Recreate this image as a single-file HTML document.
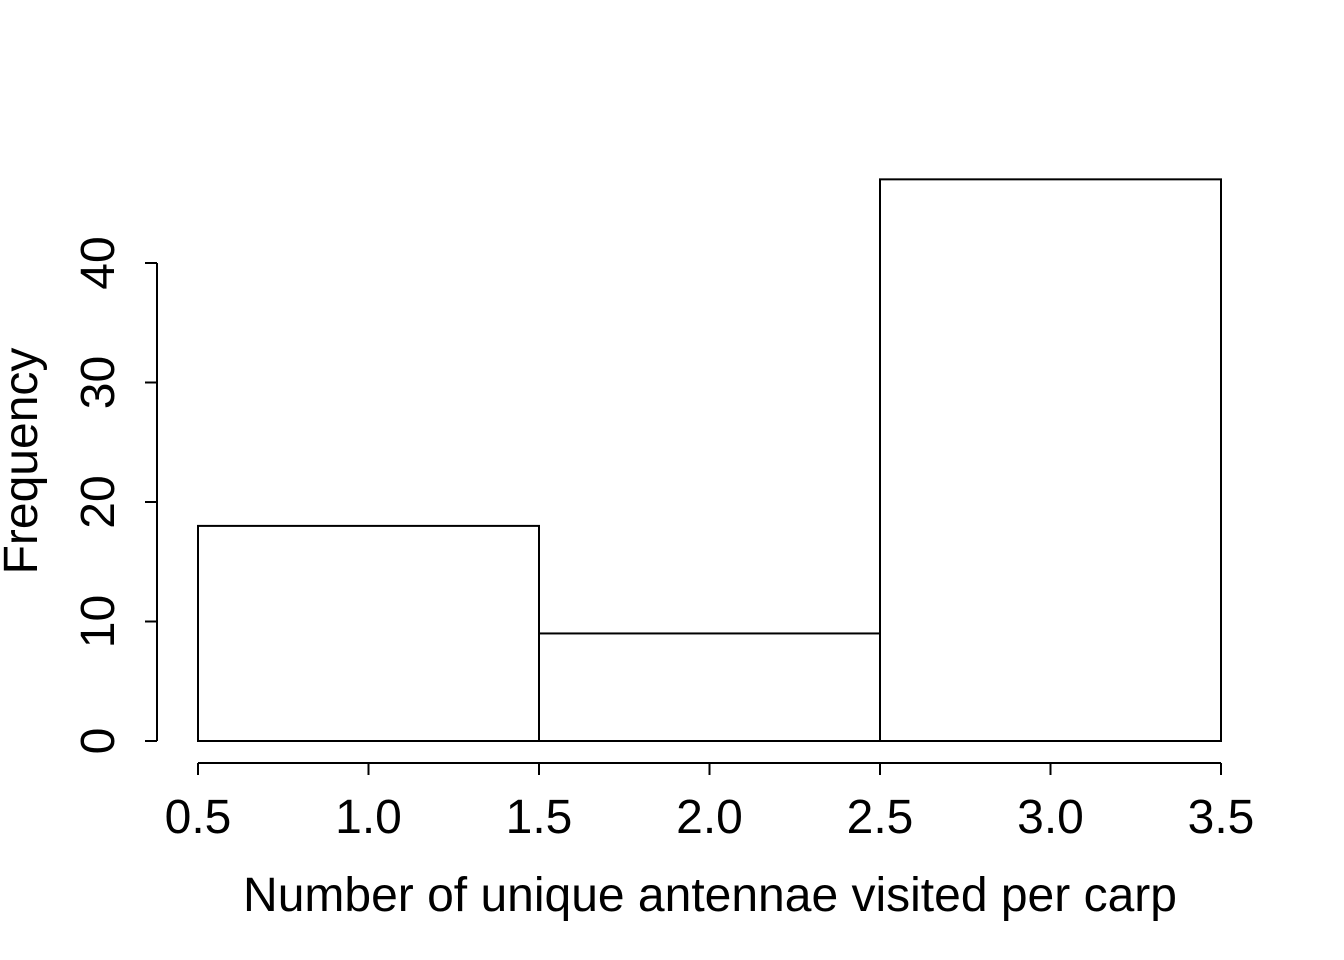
<!DOCTYPE html>
<html><head><meta charset="utf-8"><style>
html,body{margin:0;padding:0;background:#fff}
svg{display:block}
text{font-family:"Liberation Sans",Arial,sans-serif;fill:#000}
</style></head><body>
<svg id="chart" width="1344" height="960" xmlns="http://www.w3.org/2000/svg"></svg>
<script>
const binStarts = [0.5, 1.5, 2.5];
const binEnds = [1.5, 2.5, 3.5];
const counts = [18, 9, 47];
const xTicks = [0.5, 1.0, 1.5, 2.0, 2.5, 3.0, 3.5];
const xTickLabels = ["0.5","1.0","1.5","2.0","2.5","3.0","3.5"];
const yTicks = [0, 10, 20, 30, 40];
const yTickLabels = ["0","10","20","30","40"];

const svg = document.getElementById('chart');
const NS = 'http://www.w3.org/2000/svg';
const xScale = v => 198 + (v - 0.5) * (1221 - 198) / 3;
const yScale = v => 741 - v * (741 - 263) / 40;
function mk(tag, attrs, parent) {
  const e = document.createElementNS(NS, tag);
  for (const k in attrs) e.setAttribute(k, attrs[k]);
  (parent || svg).appendChild(e);
  return e;
}

const bars = mk('g', {});


counts.forEach((c, i) => {
  const x0 = xScale(binStarts[i]), x1 = xScale(binEnds[i]), y = yScale(c);
  const r = mk('rect', {x: x0, y: y, width: x1 - x0, height: yScale(0) - y, fill: '#fff', stroke: '#000', 'stroke-width': 2}, bars);
  
  
});

const xa = mk('g', {});


mk('line', {x1: xScale(xTicks[0]), x2: xScale(xTicks[xTicks.length - 1]), y1: 763, y2: 763, stroke: '#000', 'stroke-width': 2}, xa);
xTicks.forEach((t, i) => {
  mk('line', {x1: xScale(t), x2: xScale(t), y1: 763, y2: 775, stroke: '#000', 'stroke-width': 2}, xa);
  const tx = mk('text', {x: xScale(t), y: 833, 'font-size': 48, 'text-anchor': 'middle'}, xa);
  tx.textContent = xTickLabels[i];
  
  
});

const ya = mk('g', {});


mk('line', {x1: 157, x2: 157, y1: yScale(yTicks[0]), y2: yScale(yTicks[yTicks.length - 1]), stroke: '#000', 'stroke-width': 2}, ya);
yTicks.forEach((t, i) => {
  mk('line', {x1: 145, x2: 157, y1: yScale(t), y2: yScale(t), stroke: '#000', 'stroke-width': 2}, ya);
  const tx = mk('text', {x: 0, y: 0, 'font-size': 48, 'text-anchor': 'middle', transform: 'translate(114,' + yScale(t) + ') rotate(-90)'}, ya);
  tx.textContent = yTickLabels[i];
  
  
});

const xt = mk('text', {x: 710, y: 911, 'font-size': 48, 'text-anchor': 'middle'});
xt.textContent = 'Number of unique antennae visited per carp';



const yt = mk('text', {x: 0, y: 0, 'font-size': 48, 'text-anchor': 'middle', transform: 'translate(37,461) rotate(-90)'});
yt.textContent = 'Frequency';


</script>
</body></html>
